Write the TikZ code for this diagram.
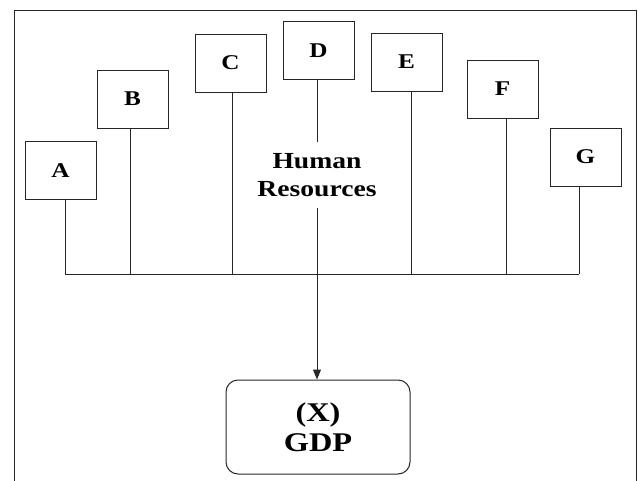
\documentclass[tikz,border=0pt]{standalone}
\usepackage{fontspec}
\setmainfont{Liberation Serif}
\usetikzlibrary{arrows.meta,positioning}
\newcommand{\widetxt}[1]{\scalebox{1.2}[1]{#1}}

\begin{document}
\begin{tikzpicture}[
  x=1pt, y=-1pt,
  >={Triangle[length=10pt,width=8pt]},
  box/.style={rectangle, draw=black!85, line width=1pt, minimum width=71pt,
              minimum height=58pt, inner sep=0pt,
              font=\bfseries\fontsize{21}{24}\selectfont},
  goal/.style={rectangle, rounded corners=12pt, draw=black!85, line width=1pt,
               minimum width=184pt, minimum height=94pt, align=center,
               font=\bfseries\fontsize{27}{30}\selectfont},
  lbl/.style={align=center, inner sep=0pt, minimum height=66pt,
              font=\bfseries\fontsize{23}{28}\selectfont},
  arr/.style={draw=black!85, line width=1pt}
]
\useasboundingbox (0,0) rectangle (638,480);
\draw[arr] (14,10) rectangle (636,486);
% --- Faktoren ---
\node[box] (A) at (60.5,170.5) {\widetxt{A}};
\node[box] (B) at (132.5,99)   {\widetxt{B}};
\node[box] (C) at (230.5,63)   {\widetxt{C}};
\node[box] (D) at (318.5,50.5) {\widetxt{D}};
\node[box] (E) at (406.5,62)   {\widetxt{E}};
\node[box] (F) at (502.5,89)   {\widetxt{F}};
\node[box] (G) at (585.5,157)  {\widetxt{G}};
% --- Sammelleitung ---
\coordinate (busL) at (65,274);
\coordinate (busR) at (579,274);
\draw[arr] (busL) -- (busR);
\draw[arr] ([xshift=4.5pt]A.south) -- ([xshift=4.5pt]A.south |- busL);
\draw[arr] ([xshift=-2.5pt]B.south) -- ([xshift=-2.5pt]B.south |- busL);
\draw[arr] ([xshift=1.5pt]C.south) -- ([xshift=1.5pt]C.south |- busL);
\draw[arr] ([xshift=4.5pt]E.south) -- ([xshift=4.5pt]E.south |- busL);
\draw[arr] ([xshift=3.5pt]F.south) -- ([xshift=3.5pt]F.south |- busL);
\draw[arr] ([xshift=-6.5pt]G.south) -- ([xshift=-6.5pt]G.south |- busL);
% --- Ziel ---
\node[lbl]  (hr)  at (317,175) {\widetxt{Human}\\\widetxt{Resources}};
\node[goal] (gdp) at (318,427) {\widetxt{(X)}\\\widetxt{GDP}};
\draw[arr] (D.south -| hr.north) -- (hr.north);
\draw[arr, ->] (hr.south) -- (hr.south |- gdp.north);
\end{tikzpicture}
\end{document}
